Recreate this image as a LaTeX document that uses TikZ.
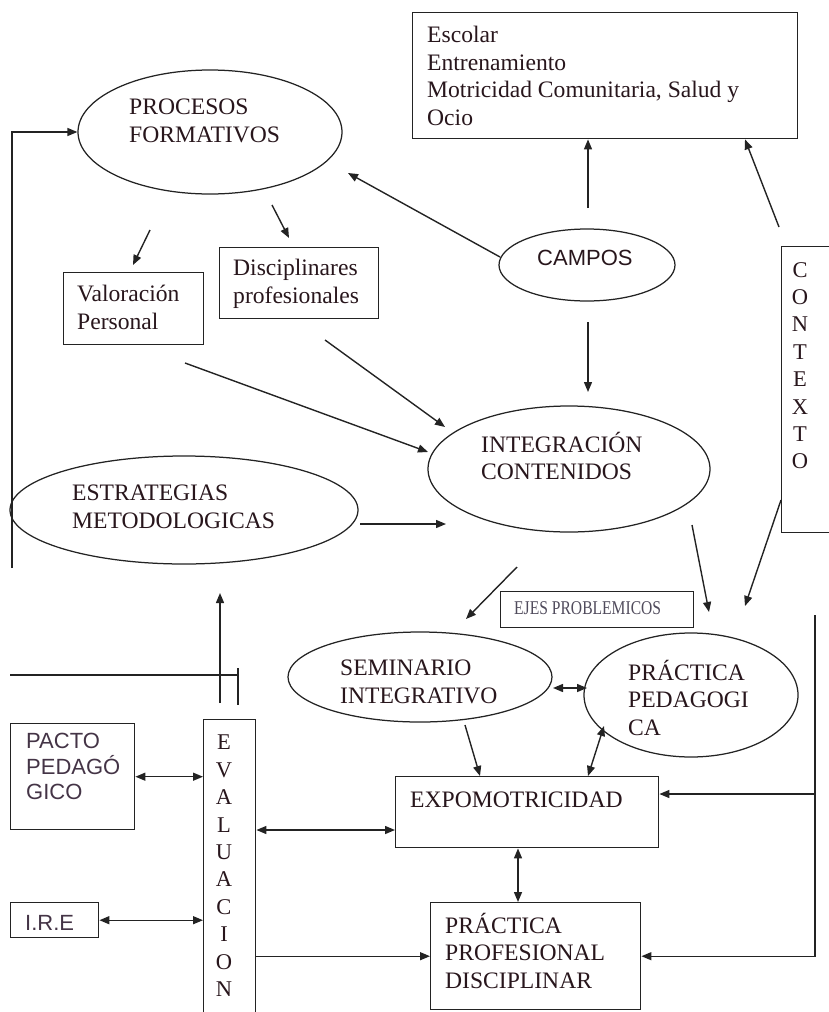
\documentclass[tikz,border=0pt]{standalone}
\usepackage{fontspec}
\setmainfont{Liberation Serif}
\setsansfont{Liberation Sans}
\usetikzlibrary{arrows.meta,shapes.geometric}

\definecolor{inkline}{RGB}{35,35,35}
\definecolor{inkserif}{RGB}{40,22,28}
\definecolor{inksans}{RGB}{68,52,70}
\definecolor{inkgray}{RGB}{80,75,92}

\tikzset{
  ln/.style={line width=1.4pt, draw=inkline},
  arr/.style={ln, -{Triangle[length=10pt,width=8pt]}},
  dbl/.style={ln, {Triangle[length=10pt,width=8pt]}-{Triangle[length=10pt,width=8pt]}},
  box/.style={ln, rectangle, inner sep=0pt, anchor=north west},
  oval/.style={ln, line width=1.25pt, ellipse, inner sep=0pt},
  txt/.style={font=\fontsize{23.6}{27.5}\selectfont, text=inkserif, align=left,
              inner sep=0pt, anchor=north west},
  stxt/.style={font=\sffamily\fontsize{22}{25.5}\selectfont, text=inksans, align=left,
               inner sep=0pt, anchor=north west},
  vtxt/.style={font=\fontsize{22.5}{27.4}\selectfont, text=inkserif, align=center,
               inner sep=0pt, anchor=north},
}

\begin{document}
\begin{tikzpicture}[x=1pt,y=-1pt]
\useasboundingbox (0,0) rectangle (829,1012);

% ---------- ellipses ----------
\node[oval, minimum width=264pt, minimum height=124pt] (proc)   at (210,132) {};
\node[oval, minimum width=176pt, minimum height=72pt]  (campos) at (587,265) {};
\node[oval, minimum width=282pt, minimum height=126pt] (integ)  at (569,469) {};
\node[oval, minimum width=348pt, minimum height=108pt] (estr)   at (184,510) {};
\node[oval, minimum width=264pt, minimum height=90pt]  (sem)    at (420,677) {};
\node[oval, minimum width=214pt, minimum height=124pt] (prped)  at (691,695) {};

% ---------- boxes ----------
\node[box, minimum width=140pt, minimum height=72pt]  (val)   at (63,272)  {};
\node[box, minimum width=159pt, minimum height=71pt]  (disc)  at (219,247) {};
\node[box, minimum width=385pt, minimum height=126pt] (campf) at (412,12)  {};
\node[box, minimum width=60pt,  minimum height=286pt] (ctx)   at (781,246) {};
\node[box, minimum width=193pt, minimum height=36pt]  (ejes)  at (500,591) {};
\node[box, minimum width=263pt, minimum height=71pt]  (expo)  at (395,776) {};
\node[box, minimum width=210pt, minimum height=107pt] (ppd)   at (430,902) {};
\node[box, minimum width=52pt,  minimum height=310pt] (eval)  at (203,719) {};
\node[box, minimum width=124pt, minimum height=106pt] (pacto) at (10,723)  {};
\node[box, minimum width=88pt,  minimum height=35pt]  (ire)   at (10,902)  {};

% ---------- texts ----------
\node[txt] (procT)  at (129,99)  {PROCESOS\\FORMATIVOS};
\node[txt] (valT)   at (77,285)  {Valoración\\Personal};
\node[txt] (discT)  at (233,259) {Disciplinares\\profesionales};
\node[txt] (campfT) at (427,26)  {Escolar\\Entrenamiento\\Motricidad Comunitaria, Salud y\\Ocio};
\node[stxt, text=inkserif] (camposT) at (537,250) {CAMPOS};
\node[txt] (integT) at (481,432) {INTEGRACIÓN\\CONTENIDOS};
\node[txt] (estrT)  at (72,485)  {ESTRATEGIAS\\METODOLOGICAS};
\node[txt, text=inkgray, font=\fontsize{19.5}{20}\selectfont] (ejesT) at (514,601)
      {\scalebox{0.8}[1]{EJES PROBLEMICOS}};
\node[txt] (semT)   at (340,660) {SEMINARIO\\INTEGRATIVO};
\node[txt] (prpedT) at (628,660) {PRÁCTICA\\PEDAGOGI\\CA};
\node[txt] (expoT)  at (410,792) {EXPOMOTRICIDAD};
\node[txt] (ppdT)   at (445,913) {PRÁCTICA\\PROFESIONAL\\DISCIPLINAR};
\node[stxt] (pactoT) at (26,733) {PACTO\\PEDAGÓ\\GICO};
\node[stxt] (ireT)   at (25,915) {I.R.E};
\node[vtxt] (ctxT)  at (800,262) {C\\O\\N\\T\\E\\X\\T\\O};
\node[vtxt] (evalT) at (224,735) {E\\V\\A\\L\\U\\A\\C\\I\\O\\N};

% ---------- free ends of connectors ----------
\coordinate (lbot)  at (12,568);
\coordinate (pv1)   at (150,230);
\coordinate (pv2)   at (133,265);
\coordinate (pd1)   at (272,205);
\coordinate (pd2)   at (289,238);
\coordinate (cp1)   at (500,257);
\coordinate (cp2)   at (348,173);
\coordinate (cu1)   at (588,208);
\coordinate (xu1)   at (779,227);
\coordinate (xu2)   at (745,138);
\coordinate (cd1)   at (588,322);
\coordinate (cd2)   at (588,392);
\coordinate (di1)   at (325,340);
\coordinate (di2)   at (445,427);
\coordinate (vi1)   at (185,363);
\coordinate (vi2)   at (428,452);
\coordinate (ei1)   at (360,524);
\coordinate (ei2)   at (446,524);
\coordinate (ip1)   at (692,525);
\coordinate (ip2)   at (709,612);
\coordinate (xp1)   at (781,500);
\coordinate (xp2)   at (745,606);
\coordinate (is1)   at (517,567);
\coordinate (is2)   at (466,619);
\coordinate (sp1)   at (553,688);
\coordinate (sp2)   at (587,688);
\coordinate (se1)   at (465,725);
\coordinate (se2)   at (480,776);
\coordinate (pe1)   at (604,726);
\coordinate (pe2)   at (588,776);
\coordinate (rtop)  at (815,615);
\coordinate (rmid)  at (815,794);
\coordinate (hl1)   at (10,675);
\coordinate (hl2)   at (238,675);
\coordinate (tk1)   at (238,668);
\coordinate (tk2)   at (238,705);
\coordinate (ea1)   at (220,703);
\coordinate (ea2)   at (220,593);

% ---------- connectors ----------
\draw[arr] (lbot) |- (proc.west);
\draw[arr] (pv1) -- (pv2);
\draw[arr] (pd1) -- (pd2);
\draw[arr] (cp1) -- (cp2);
\draw[arr] (cu1) -- (cu1 |- campf.south);
\draw[arr] (xu1) -- (xu2 |- campf.south);
\draw[arr] (cd1) -- (cd2);
\draw[arr] (di1) -- (di2);
\draw[arr] (vi1) -- (vi2);
\draw[arr] (ei1) -- (ei2);
\draw[arr] (ip1) -- (ip2);
\draw[arr] (xp1) -- (xp2);
\draw[arr] (is1) -- (is2);
\draw[dbl] (sp1) -- (sp2);
\draw[arr] (se1) -- (se2 |- expo.north);
\draw[dbl] (pe1) -- (pe2);
\draw[dbl] (pacto.east) -- (eval.west |- pacto.east);
\draw[dbl] (ire.east) -- (eval.west |- ire.east);
\draw[dbl] (eval.east |- 0,830) -- (expo.west |- 0,830);
\draw[arr] (eval.east |- ppd.west) -- (ppd.west);
\draw[dbl] (expo.south -| 518,0) -- (ppd.north -| 518,0);
\draw[ln] (rtop) -- (rmid);
\draw[arr] (rmid) |- (ppd.east);
\draw[arr] (rmid) -- (expo.east |- rmid);
\draw[ln] (hl1) -- (hl2);
\draw[ln] (tk1) -- (tk2);
\draw[arr] (ea1) -- (ea2);
\end{tikzpicture}
\end{document}
